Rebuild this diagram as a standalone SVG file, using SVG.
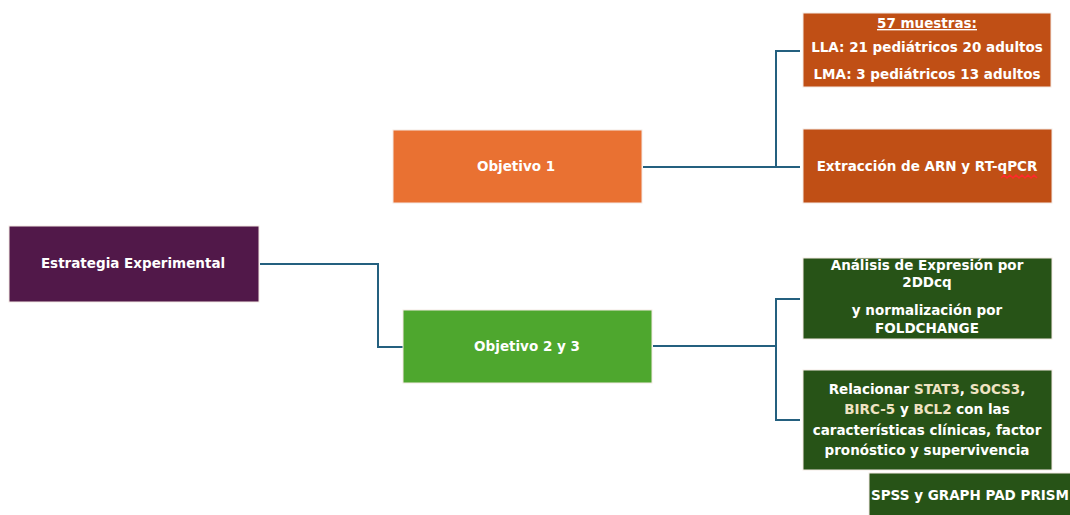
<svg xmlns="http://www.w3.org/2000/svg" width="1070" height="515" viewBox="0 0 1070 515">
<style>
.box{stroke:#f4e9e4;stroke-width:1}
.t{font-family:"DejaVu Sans","Liberation Sans",sans-serif;font-weight:bold;font-size:13.5px;fill:#ffffff;text-anchor:middle}
.y{fill:#efe3c2}
.c{fill:none;stroke:#24607f;stroke-width:2}
</style>
<rect width="1070" height="515" fill="#ffffff"/>
<g id="connectors">
<polyline class="c" points="260,264 378,264 378,347 403,347"/>
<polyline class="c" points="643,167 800,167"/>
<polyline class="c" points="800,51 776,51 776,167"/>
<polyline class="c" points="653,346 776,346"/>
<polyline class="c" points="800,299 776,299 776,420 800,420"/>
</g>
<g id="estrategia">
<rect class="box" x="9" y="226" width="250" height="76" fill="#511849"/>
<text class="t" x="133" y="268">Estrategia Experimental</text>
</g>
<g id="objetivo1">
<rect class="box" x="393" y="130" width="249" height="73" fill="#e97132"/>
<text class="t" x="516" y="171">Objetivo 1</text>
</g>
<g id="objetivo23">
<rect class="box" x="403" y="310" width="249" height="73" fill="#4ea72e"/>
<text class="t" x="527" y="351">Objetivo 2 y 3</text>
</g>
<g id="muestras">
<rect class="box" x="803" y="13" width="248" height="74" fill="#c04f15"/>
<text class="t" x="927" y="28" style="text-decoration:underline">57 muestras:</text>
<text class="t" x="927" y="52">LLA: 21 pediátricos 20 adultos</text>
<text class="t" x="927" y="79">LMA: 3 pediátricos 13 adultos</text>
</g>
<g id="extraccion">
<rect class="box" x="803" y="129" width="249" height="74" fill="#c04f15"/>
<text class="t" x="927" y="171">Extracción de ARN y RT-qPCR</text>
<polyline points="1001,178 1004,175 1007,178 1010,175 1013,178 1016,175 1019,178 1022,175 1025,178 1028,175 1031,178 1034,175 1037,178" fill="none" stroke="#ff2a2a" stroke-width="1.5"/>
</g>
<g id="analisis">
<rect class="box" x="803" y="258" width="249" height="81" fill="#275317"/>
<text class="t" x="927" y="270">Análisis de Expresión por</text>
<text class="t" x="927" y="287">2DDcq</text>
<text class="t" x="927" y="315">y normalización por</text>
<text class="t" x="927" y="333">FOLDCHANGE</text>
</g>
<g id="relacionar">
<rect class="box" x="803" y="370" width="249" height="100" fill="#275317"/>
<text class="t" x="927" y="394">Relacionar <tspan class="y">STAT3</tspan>, <tspan class="y">SOCS3</tspan>,</text>
<text class="t" x="927" y="414"><tspan class="y">BIRC-5</tspan> y <tspan class="y">BCL2</tspan> con las</text>
<text class="t" x="927" y="435">características clínicas, factor</text>
<text class="t" x="927" y="455">pronóstico y supervivencia</text>
</g>
<g id="software">
<rect class="box" x="869" y="473" width="210" height="45" fill="#275317"/>
<text class="t" x="871" y="500" style="text-anchor:start">SPSS y GRAPH PAD PRISM</text>
</g>
</svg>
